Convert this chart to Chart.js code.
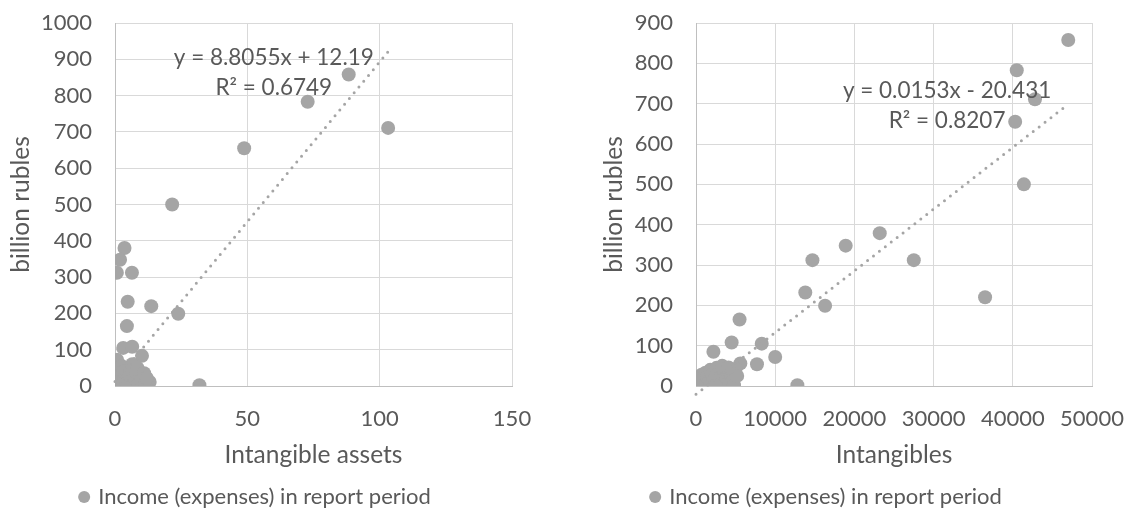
<!DOCTYPE html>
<html>
<head>
<meta charset="utf-8">
<script src="https://cdn.jsdelivr.net/npm/chart.js@4"></script>
<style>
  html, body { margin: 0; padding: 0; background: #fff; overflow: hidden; }
  #wrap { position: relative; width: 1125px; height: 513px; }
  .box { position: absolute; top: 0; height: 513px; }
</style>
</head>
<body>
<div id="wrap">
  <div class="box" style="left:0;width:562px"><canvas id="left"></canvas></div>
  <div class="box" style="left:562px;width:563px"><canvas id="right"></canvas></div>
</div>
<script>
const seriesName = "Income (expenses) in report period";

// left chart: intangible assets vs income
const assetsX = [88.3, 72.8, 103.2, 48.8, 21.6, 3.6, 1.9, 0.7, 6.4, 4.8, 13.7, 23.9, 4.5, 3.1, 6.5, 10.2, 0.8, 31.9, 13.1,
  0, 0.3, 0.1, 0.5, 0.2, 0.6, 0.3, 1.5, 1.8, 2.2, 1.4, 2.5, 3, 3.5, 3.2,
  4.5, 5, 5.5, 6, 6.5, 7, 7.5, 8, 8.5, 9, 9.5, 10, 11, 11.5, 12];
const assetsY = [858, 783, 711, 655, 500, 380, 348, 312, 312, 232, 220, 199, 165, 105, 108, 83, 72, 2, 11,
  0, 8, 18, 28, 38, 48, 58, 2, 15, 30, 45, 55, 5, 22, 40,
  0, 12, 30, 45, 60, 3, 20, 38, 50, 8, 28, 15, 35, 5, 22];

// right chart: intangibles vs income
const intangX = [47000, 40500, 42800, 40300, 41400, 23200, 18900, 14700, 27500, 36500, 13800, 16300, 5500, 4500, 8300, 2200, 10000, 7700, 5600, 12800,
  0, 200, 300, 500, 700, 900, 1100, 1200, 1400, 1600, 1800, 2000, 2200, 2400, 2600, 2800, 3000, 3200,
  3400, 3600, 3800, 4000, 4200, 4400, 4600, 4800, 5000, 5200, 3300, 2500, 100, 4100];
const intangY = [858, 783, 711, 655, 500, 379, 348, 312, 312, 220, 232, 199, 165, 108, 105, 85, 72, 54, 56, 2,
  5, 12, 20, 8, 28, 15, 3, 33, 22, 8, 40, 28, 14, 2, 45, 32, 20, 6,
  48, 35, 18, 5, 40, 28, 12, 2, 42, 25, 50, 0, 0, 46];

// axis ranges [min, max, step]
const leftXAxis = [0, 150, 50];
const leftYAxis = [0, 1000, 100];
const rightXAxis = [0, 50000, 10000];
const rightYAxis = [0, 900, 100];

// linear trendlines [slope, intercept] and R²
const leftFit = [8.8055, 12.19];
const leftR2 = "0.6749";
const rightFit = [0.0153, -20.431];
const rightR2 = "0.8207";

const textColor = "#595959";
const markColor = "#a5a5a5";
const gridColor = "#d9d9d9";
const fontFamily = "Lato, 'Open Sans', sans-serif";

function fmtEq(fit) {
  const sign = fit[1] < 0 ? " - " : " + ";
  return "y = " + fit[0] + "x" + sign + Math.abs(fit[1]);
}

const eqLabel = {
  id: "eqLabel",
  afterDatasetsDraw(chart, args, opts) {
    const { ctx, scales } = chart;
    const px = scales.x.getPixelForValue(opts.at[0]);
    const py = scales.y.getPixelForValue(opts.at[1]);
    ctx.save();
    ctx.font = "22.5px " + fontFamily;
    ctx.fillStyle = textColor;
    ctx.textAlign = "center";
    ctx.textBaseline = "middle";
    ctx.fillText(fmtEq(opts.fit), px, py);
    ctx.fillText("R² = " + opts.r2, px, py + 30);
    ctx.restore();
  }
};

function makeChart(id, xs, ys, xAxis, yAxis, fit, r2, eqAt, xTitle, yWidth, yTitlePad, padRight) {
  const pts = xs.map((x, i) => ({ x, y: ys[i] }));
  const x0 = Math.min(...xs), x1 = Math.max(...xs);
  const trend = [{ x: x0, y: fit[0] * x0 + fit[1] }, { x: x1, y: fit[0] * x1 + fit[1] }];

  return new Chart(document.getElementById(id), {
    type: "scatter",
    data: {
      datasets: [
        {
          type: "line",
          label: "trend",
          data: trend,
          borderColor: markColor,
          borderWidth: 3,
          borderDash: [0, 7.5],
          borderCapStyle: "round",
          pointRadius: 0,
          fill: false,
          clip: false
        },
        {
          label: seriesName,
          data: pts,
          backgroundColor: markColor,
          borderWidth: 0,
          pointRadius: 7,
          pointHoverRadius: 7
        }
      ]
    },
    options: {
      responsive: true,
      maintainAspectRatio: false,
      animation: false,
      layout: { padding: { top: 23, right: padRight, bottom: -5, left: 0 } },
      scales: {
        x: {
          type: "linear",
          min: xAxis[0], max: xAxis[1],
          ticks: { stepSize: xAxis[2], color: textColor, padding: 0, font: { family: fontFamily, size: 22 }, callback: v => String(v) },
          grid: { color: gridColor, drawTicks: true, tickLength: 20, tickColor: "rgba(0,0,0,0)" },
          border: { color: "#bfbfbf" },
          title: { display: true, text: xTitle, color: textColor, font: { family: fontFamily, size: 24.5 }, padding: { top: 4, bottom: 6 } },
          afterFit: s => { s.height = 90; }
        },
        y: {
          min: yAxis[0], max: yAxis[1],
          ticks: { stepSize: yAxis[2], color: textColor, padding: 0, font: { family: fontFamily, size: 22 }, callback: v => String(v) },
          grid: { color: gridColor, drawTicks: true, tickLength: 23, tickColor: "rgba(0,0,0,0)" },
          border: { color: "#bfbfbf" },
          title: { display: true, text: "billion rubles", color: textColor, font: { family: fontFamily, size: 24.5 }, padding: { top: yTitlePad, bottom: 0 } },
          afterFit: s => { s.width = yWidth; }
        }
      },
      plugins: {
        legend: {
          position: "bottom",
          labels: {
            filter: item => item.datasetIndex === 1,
            usePointStyle: true,
            pointStyle: "circle",
            boxWidth: 6,
            boxHeight: 8.5,
            padding: 10,
            color: textColor,
            font: { family: fontFamily, size: 22 }
          }
        },
        tooltip: { enabled: false },
        eqLabel: { fit, r2, at: eqAt }
      }
    },
    plugins: [eqLabel]
  });
}

makeChart("left", assetsX, assetsY, leftXAxis, leftYAxis, leftFit, leftR2, [60, 904],
  "Intangible assets", 115, 6, 50);
makeChart("right", intangX, intangY, rightXAxis, rightYAxis, rightFit, rightR2, [31700, 731],
  "Intangibles", 134, 37, 33);
</script>
</body>
</html>
